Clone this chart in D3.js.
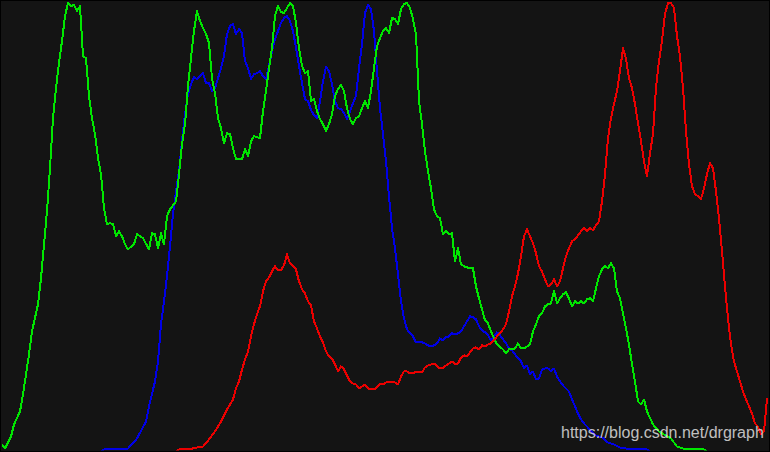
<!DOCTYPE html>
<html>
<head>
<meta charset="utf-8">
<script src="https://cdn.jsdelivr.net/npm/d3@7"></script>
<style>
  html, body { margin: 0; padding: 0; background: #141414; }
  svg { display: block; }
</style>
</head>
<body>
<svg id="chart" width="770" height="452"></svg>
<script>
// Histogram: [bin (0..255), normalised count (0..448)] per channel
const blueHist = [
  [0,0],[33,0],[34,2],[38,2],[42,3],[45,13],[48,30],[49,45],[51,70],[52,90],
  [53,127],[54,150],[55,175],[56,205],[57,237],[58,260],[59,280],[60,310],[61,337],[62,357],
  [63,367],[64,374],[65,372],[66,375],[67,378],[68,368],[69,368],[70,360],[71,363],[72,373],
  [73,383],[74,395],[75,417],[76,425],[77,427],[78,417],[79,422],[80,418],[81,390],[82,383],
  [83,372],[84,377],[85,378],[86,380],[87,375],[88,372],[89,385],[90,400],[91,412],[92,420],
  [93,428],[94,433],[95,435],[96,430],[97,420],[98,403],[99,385],[100,368],[101,352],[102,350],
  [103,341],[104,336],[105,333],[106,350],[107,370],[108,384],[109,380],[110,367],[111,350],[112,343],
  [113,342],[114,338],[115,332],[116,340],[117,348],[118,355],[119,383],[120,407],[121,438],[122,446],
  [123,442],[124,420],[125,380],[126,343],[127,317],[128,290],[129,255],[130,223],[131,203],[132,177],
  [133,150],[134,133],[135,122],[136,118],[137,115],[138,109],[139,109],[140,109],[141,108],[142,106],
  [143,105],[144,106],[145,108],[146,113],[147,111],[148,114],[149,115],[150,118],[151,117],[152,118],
  [153,120],[154,125],[155,130],[156,135],[157,134],[158,132],[159,125],[160,121],[161,119],[162,116],
  [163,111],[164,115],[165,119],[166,116],[167,112],[168,108],[169,103],[170,101],[171,97],[172,93],
  [173,90],[174,83],[175,86],[176,77],[177,80],[178,72],[179,73],[180,82],[181,83],[182,83],
  [183,80],[184,83],[185,75],[186,70],[187,66],[188,63],[189,60],[190,52],[191,45],[192,38],
  [193,32],[194,28],[195,25],[196,21],[198,16],[200,14],[202,9],[204,7],[206,4],[208,3],
  [210,2],[213,2],[215,2],[216,0],[255,0]
];
const greenHist = [
  [0,7],[1,3],[3,15],[4,27],[6,40],[7,57],[8,77],[9,97],[10,120],[12,147],
  [13,173],[14,207],[15,240],[16,283],[17,333],[18,363],[19,388],[20,410],[21,435],[22,448],
  [23,445],[24,446],[25,440],[26,445],[27,395],[28,393],[29,355],[30,333],[31,317],[32,293],
  [33,277],[34,243],[35,227],[36,228],[37,227],[38,215],[39,220],[40,215],[41,207],[42,202],
  [44,207],[45,217],[47,213],[49,202],[50,218],[51,217],[52,203],[53,218],[54,207],[55,235],
  [56,242],[58,250],[59,277],[60,307],[61,327],[62,365],[63,393],[64,420],[65,440],[66,430],
  [67,423],[68,417],[69,408],[70,373],[71,358],[72,333],[73,323],[74,308],[75,318],[76,317],
  [77,303],[78,292],[80,292],[81,302],[82,295],[83,310],[84,315],[86,313],[87,340],[88,360],
  [89,383],[90,403],[91,435],[92,445],[93,439],[94,438],[95,443],[96,448],[97,445],[98,428],
  [99,403],[100,385],[101,378],[102,380],[103,350],[104,352],[105,340],[106,332],[107,327],[108,320],
  [109,327],[110,337],[111,355],[112,362],[113,366],[114,360],[115,343],[116,332],[117,327],[118,333],
  [119,335],[120,343],[121,350],[122,343],[123,360],[124,383],[125,405],[126,413],[127,420],[128,423],
  [129,418],[130,433],[131,432],[132,427],[133,442],[134,447],[135,448],[136,443],[137,432],[138,417],
  [139,350],[140,327],[141,300],[142,280],[143,263],[144,242],[145,235],[146,233],[147,217],[148,220],
  [149,217],[150,218],[151,190],[152,203],[153,187],[154,185],[156,183],[157,183],[158,165],[159,153],
  [160,142],[161,131],[162,128],[163,120],[164,113],[165,107],[167,102],[168,98],[169,102],[170,102],
  [171,103],[172,108],[173,103],[174,103],[176,107],[177,120],[178,127],[179,135],[180,138],[181,145],
  [182,147],[183,148],[184,160],[185,148],[186,153],[187,157],[188,159],[189,153],[190,145],[191,150],
  [192,148],[193,150],[194,148],[195,152],[196,153],[197,150],[198,163],[199,175],[200,182],[201,185],
  [202,183],[203,188],[204,183],[205,160],[206,153],[207,138],[208,123],[209,107],[210,87],[211,70],
  [212,50],[213,47],[214,52],[215,40],[217,27],[219,20],[223,13],[225,5],[227,3],[230,2],
  [234,2],[235,0],[255,0]
];
const redHist = [
  [0,0],[58,0],[59,2],[62,2],[65,4],[67,5],[69,12],[71,20],[73,30],[75,42],
  [77,52],[78,63],[79,70],[80,82],[81,92],[82,100],[83,115],[84,127],[85,137],[86,145],
  [87,160],[88,170],[89,174],[90,180],[91,185],[92,181],[93,181],[94,186],[95,197],[96,188],
  [97,185],[98,182],[99,170],[100,162],[101,158],[102,150],[103,146],[104,130],[105,123],[106,115],
  [107,109],[108,100],[109,95],[110,93],[111,87],[112,80],[113,85],[114,82],[115,76],[116,70],
  [117,68],[118,67],[119,63],[120,65],[121,67],[122,63],[123,62],[124,62],[125,64],[126,68],
  [127,67],[128,69],[129,69],[130,70],[131,69],[132,67],[133,75],[134,80],[135,80],[136,78],
  [137,78],[138,80],[139,79],[140,79],[141,84],[142,86],[143,87],[144,88],[145,85],[146,83],
  [147,83],[148,86],[149,88],[150,90],[151,87],[152,88],[153,94],[154,96],[155,95],[156,99],
  [157,103],[158,104],[159,102],[160,106],[161,105],[162,107],[163,108],[164,111],[165,115],[166,118],
  [167,122],[168,127],[169,140],[170,155],[171,165],[172,178],[173,195],[174,215],[175,222],[176,215],
  [177,208],[178,198],[179,185],[180,180],[181,172],[182,165],[183,167],[184,172],[185,165],[186,170],
  [187,183],[188,195],[189,203],[190,210],[191,212],[192,216],[193,220],[194,223],[195,220],[196,223],
  [197,221],[198,226],[199,230],[200,250],[201,277],[202,313],[203,333],[204,347],[205,360],[206,380],
  [207,403],[208,392],[209,373],[210,363],[211,347],[212,328],[213,310],[214,290],[215,275],[216,298],
  [217,317],[218,363],[219,390],[220,410],[221,437],[222,448],[223,448],[224,443],[225,415],[226,395],
  [227,363],[228,320],[229,287],[230,265],[231,257],[232,255],[233,252],[234,263],[235,277],[236,288],
  [237,283],[238,260],[239,233],[240,200],[241,165],[242,133],[243,107],[244,90],[245,80],[246,70],
  [247,60],[248,52],[249,45],[250,38],[251,28],[252,25],[253,17],[254,20],[255,53]
];

const seriesList = [
  { name: "B", values: blueHist,  color: "rgb(0,0,230)" },
  { name: "G", values: greenHist, color: "rgb(0,230,0)" },
  { name: "R", values: redHist,   color: "rgb(235,0,0)" }
];

const W = 770, H = 452;
const svg = d3.select("#chart");

svg.append("rect").attr("x", 0).attr("y", 0).attr("width", W).attr("height", H).attr("fill", "#141414");

svg.append("defs").append("clipPath").attr("id", "plotClip")
  .append("rect").attr("x", 1).attr("y", 1).attr("width", W - 2).attr("height", 449.5);

const x = d3.scaleLinear().domain([0, 255]).range([2, 767]);
const y = d3.scaleLinear().domain([0, 448]).range([451.5, 3]);

const line = d3.line()
  .x(d => x(d[0]))
  .y(d => y(d[1]));

const g = svg.append("g").attr("clip-path", "url(#plotClip)");
g.selectAll("path.series")
  .data(seriesList)
  .join("path")
  .attr("class", "series")
  .attr("d", d => line(d.values))
  .attr("fill", "none")
  .attr("stroke", d => d.color)
  .attr("stroke-width", 2)
  .attr("stroke-linejoin", "round")
  .attr("shape-rendering", "crispEdges");

// border
svg.append("rect").attr("x", 0.5).attr("y", 0.5).attr("width", W - 1).attr("height", H - 1)
  .attr("fill", "none").attr("stroke", "#000").attr("stroke-width", 1);

// watermark
svg.append("text")
  .attr("x", 561).attr("y", 438)
  .attr("font-family", "Liberation Sans, Arial, sans-serif")
  .attr("font-size", 16)
  .attr("fill", "rgba(225,225,225,0.85)")
  .text("https://blog.csdn.net/drgraph");
</script>
</body>
</html>
